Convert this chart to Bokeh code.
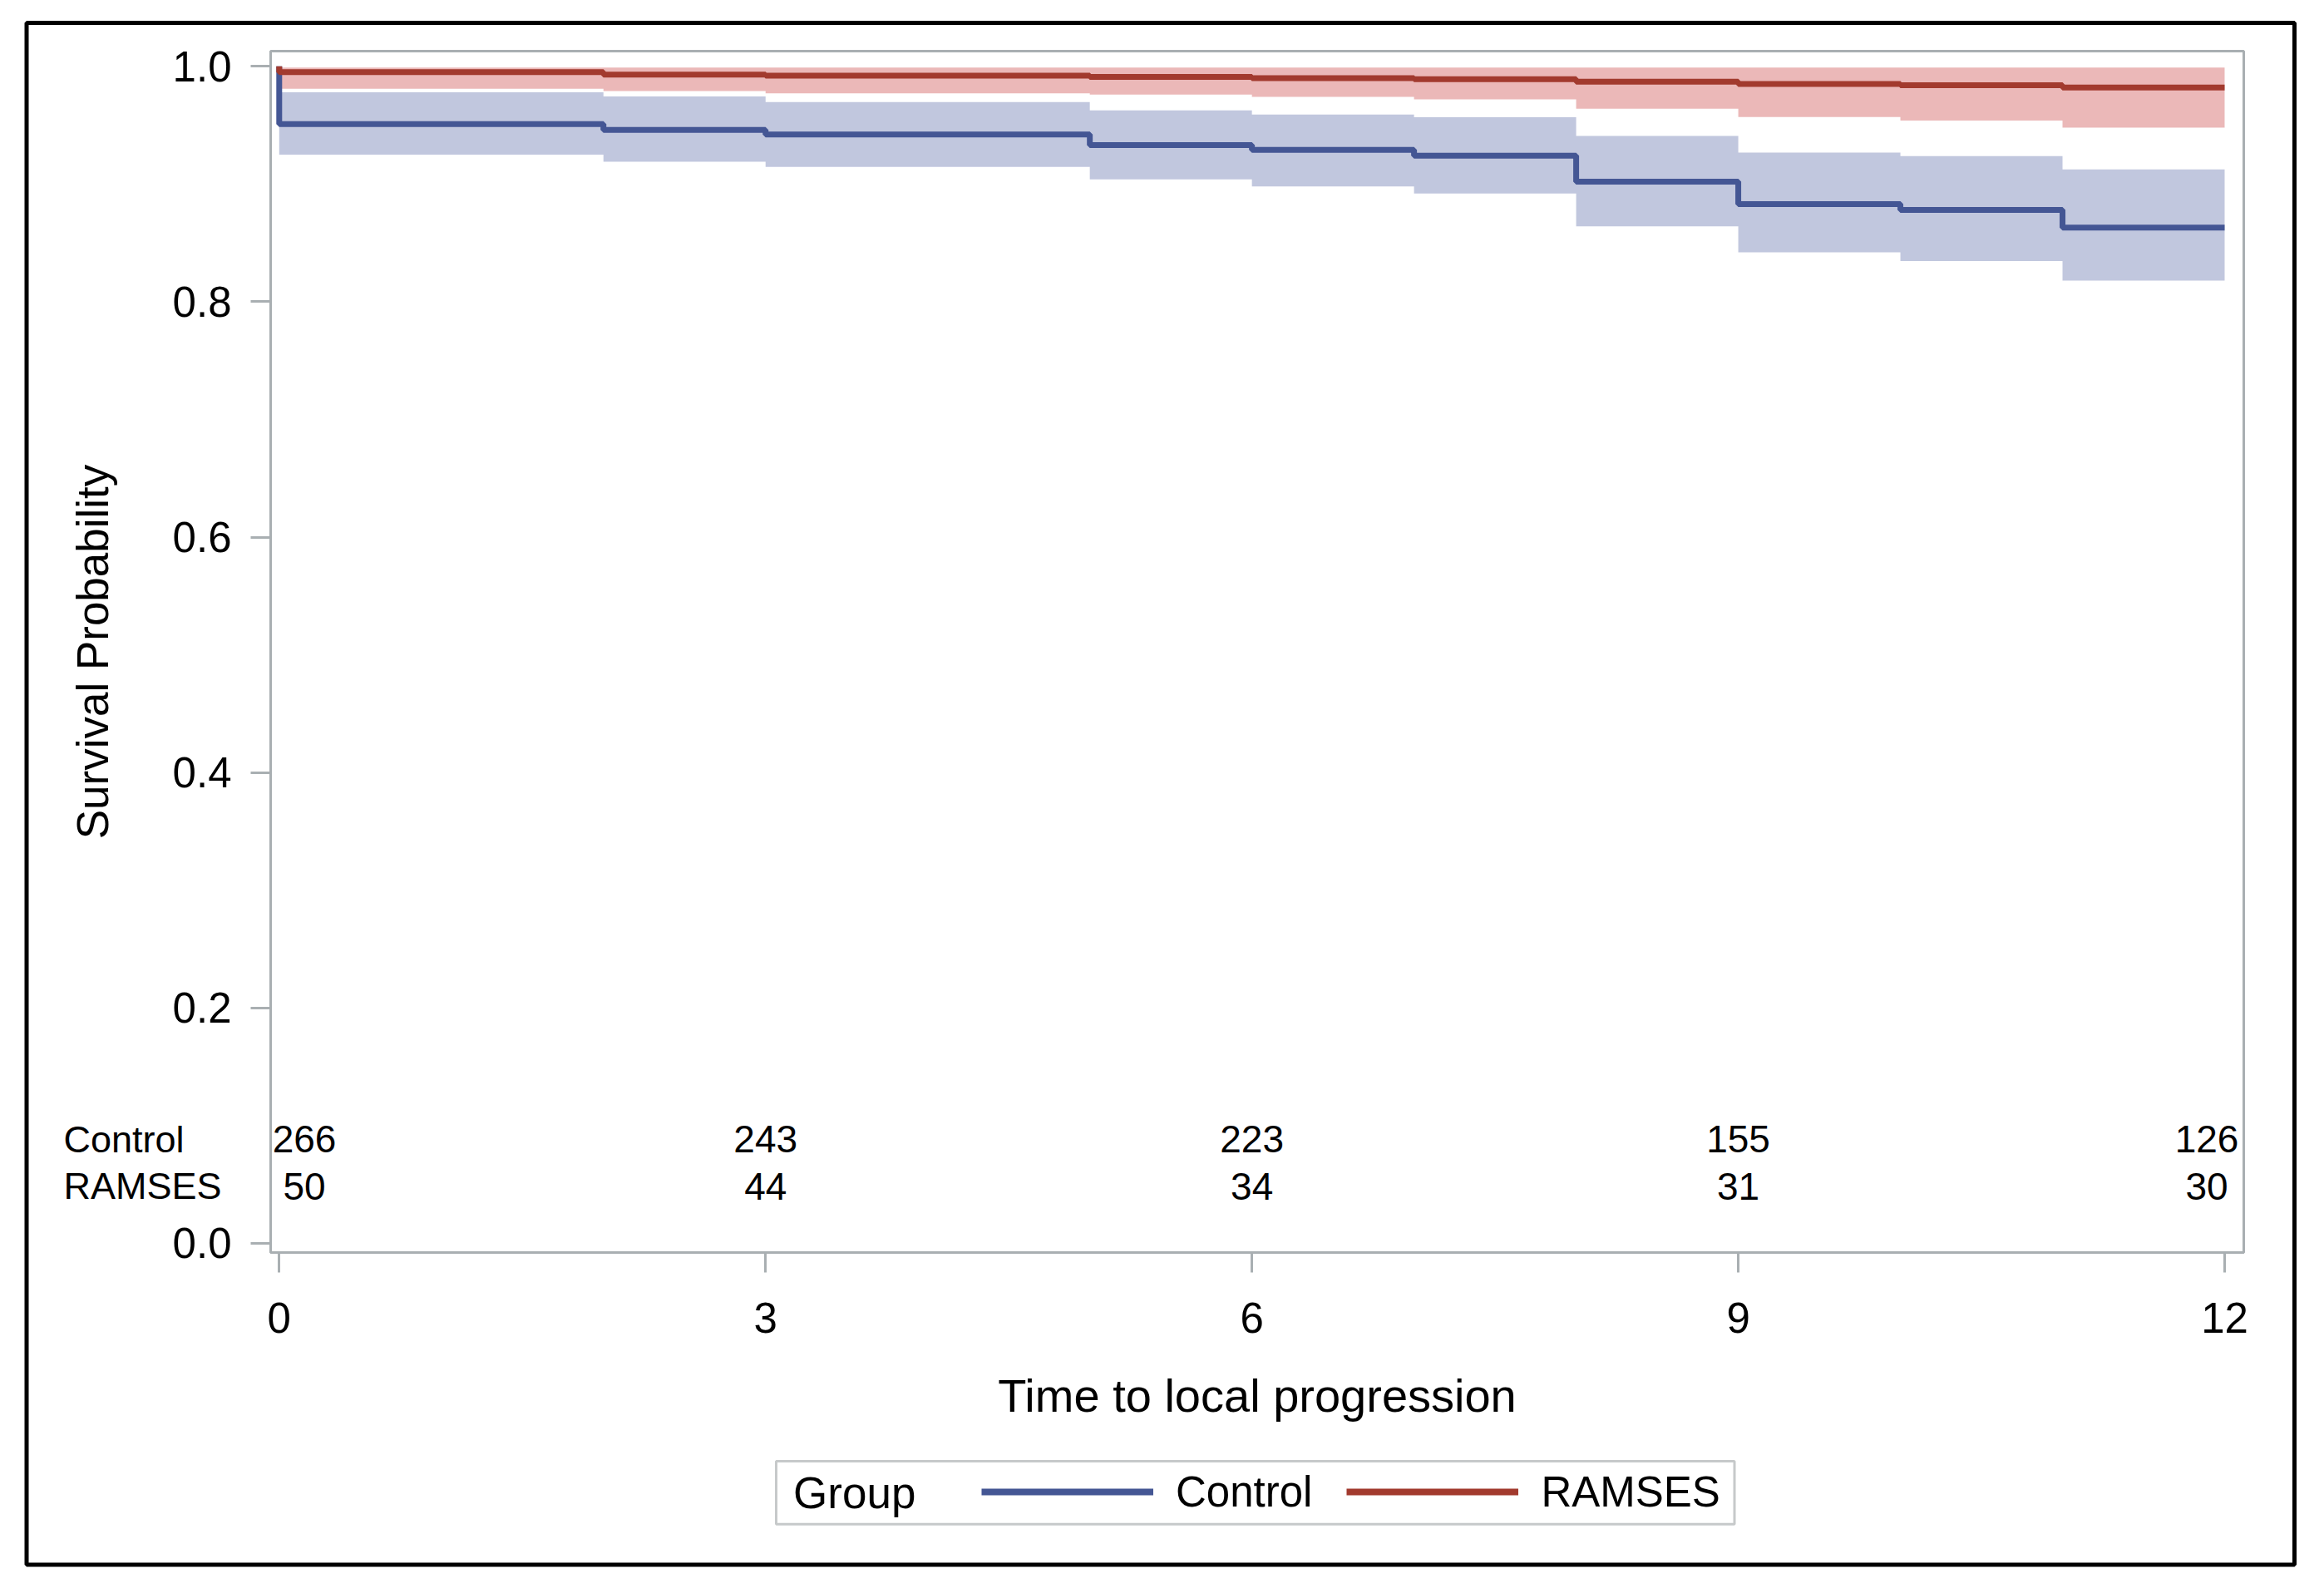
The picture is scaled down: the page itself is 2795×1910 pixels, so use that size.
from bokeh.plotting import figure
from bokeh.models import Range1d, FixedTicker, Legend, LegendItem, ColumnDataSource
from bokeh.core.properties import value
from bokeh.embed import file_html
from bokeh.resources import INLINE

# ---------------- data ----------------
times = [0, 2, 3, 5, 6, 7, 8, 9, 10, 11, 12]
control_surv  = [0.951, 0.946, 0.942, 0.933, 0.929, 0.924, 0.902, 0.883, 0.878, 0.863, 0.863]
control_lower = [0.925, 0.919, 0.9145, 0.904, 0.898, 0.892, 0.864, 0.842, 0.8345, 0.818, 0.818]
control_upper = [0.978, 0.9744, 0.9697, 0.9626, 0.9591, 0.9568, 0.9408, 0.9267, 0.9238, 0.9125, 0.9125]
ramses_surv  = [0.995, 0.993, 0.992, 0.991, 0.990, 0.989, 0.987, 0.985, 0.984, 0.982, 0.982]
ramses_lower = [0.981, 0.979, 0.977, 0.976, 0.974, 0.972, 0.964, 0.957, 0.954, 0.948, 0.948]
ramses_upper = [0.999, 0.999, 0.999, 0.999, 0.999, 0.999, 0.999, 0.999, 0.999, 0.999, 0.999]
start_surv = 1.0

risk_times = [0, 3, 6, 9, 12]
control_at_risk = [266, 243, 223, 155, 126]
ramses_at_risk = [50, 44, 34, 31, 30]
groups = ["Control", "RAMSES"]

x_ticks = [0, 3, 6, 9, 12]
y_ticks = [0.0, 0.2, 0.4, 0.6, 0.8, 1.0]
y_tick_labels = ["0.0", "0.2", "0.4", "0.6", "0.8", "1.0"]
x_title = "Time to local progression"
y_title = "Survival Probability"
legend_title = "Group"

# ---------------- style / layout ----------------
FONT = "Liberation Sans"
BLUE = "#445694"
RED = "#A23A2E"
BLUE_BAND = "#6F7EB3"
RED_BAND = "#D05B5B"
GRAY = "#a9afb2"

W, H = 2795, 1910
FL, FT, FR, FB = 325, 61, 2698, 1506          # frame edges in canvas px
X0, X1 = -0.0528, 12.118
Y0, Y1 = -0.0078, 1.0129

p = figure(width=W, height=H, output_backend="svg", toolbar_location=None,
           x_range=Range1d(X0, X1), y_range=Range1d(Y0, Y1),
           min_border_left=FL, min_border_right=W - FR, min_border_top=FT,
           min_border_bottom=H - FB)
p.background_fill_color = "white"
p.border_fill_color = "white"
p.xgrid.visible = False
p.ygrid.visible = False
p.outline_line_color = GRAY
p.outline_line_width = 3

# confidence bands
p.varea_step(x=times, y1=control_lower, y2=control_upper, step_mode="after",
             fill_color=BLUE_BAND, fill_alpha=0.43)
p.varea_step(x=times, y1=ramses_lower, y2=ramses_upper, step_mode="after",
             fill_color=RED_BAND, fill_alpha=0.43)

# survival step curves
ctrl_line = p.step([times[0]] + times, [start_surv] + control_surv, mode="after",
                   line_color=BLUE, line_width=7)
rams_line = p.step([times[0]] + times, [start_surv] + ramses_surv, mode="after",
                   line_color=RED, line_width=7)

# numbers at risk (end labels inset so they stay inside the frame)
risk_x = list(risk_times)
risk_x[0] = risk_times[0] + 0.155
risk_x[-1] = risk_times[-1] - 0.11
row_y = {"Control": 0.0883, "RAMSES": 0.0487}
for g, counts in zip(groups, [control_at_risk, ramses_at_risk]):
    src = ColumnDataSource(dict(x=risk_x, y=[row_y[g]] * len(counts),
                                t=[str(c) for c in counts]))
    p.text(x="x", y="y", text="t", source=src, text_align="center",
           text_baseline="middle", text_font=value(FONT),
           text_font_size="46px", text_color="black")

# axes
for ax in (p.xaxis[0], p.yaxis[0]):
    ax.axis_line_color = GRAY
    ax.axis_line_width = 3
    ax.major_tick_line_color = GRAY
    ax.major_tick_line_width = 3
    ax.major_tick_in = 0
    ax.major_tick_out = 24
    ax.minor_tick_line_color = None
    ax.major_label_text_font = FONT
    ax.major_label_text_font_size = "51px"
    ax.major_label_text_color = "black"
    ax.axis_label_text_font = FONT
    ax.axis_label_text_font_style = "normal"
    ax.axis_label_text_color = "black"

p.xaxis.ticker = FixedTicker(ticks=x_ticks)
p.xaxis.axis_label = x_title
p.xaxis.axis_label_text_font_size = "56px"
p.xaxis.major_label_standoff = 36
p.xaxis.axis_label_standoff = 41

p.yaxis.ticker = FixedTicker(ticks=y_ticks)
p.yaxis.major_label_overrides = {t: l for t, l in zip(y_ticks, y_tick_labels)}
p.yaxis.axis_label = y_title
p.yaxis.axis_label_text_font_size = "53px"
p.yaxis.major_label_standoff = 23
p.yaxis.axis_label_standoff = 64


def cy(y):
    return FT + (Y1 - y) / (Y1 - Y0) * (FB - FT)


# ---------- transparent overlay in canvas pixels for what lies outside the frame ----------
q = figure(width=W, height=H, output_backend="svg", toolbar_location=None,
           x_range=Range1d(0, W), y_range=Range1d(H, 0),
           x_axis_type=None, y_axis_type=None, min_border=0)
q.background_fill_color = None
q.border_fill_color = None
q.outline_line_color = None
q.styles = {"position": "absolute", "top": "0px", "left": "0px",
            "z-index": "10", "pointer-events": "none"}

# row headers of the at-risk table (same rows as the numbers)
hdr = ColumnDataSource(dict(x=[76, 76], y=[cy(row_y[g]) for g in groups], t=groups))
q.text(x="x", y="y", text="t", source=hdr, text_align="left",
       text_baseline="middle", text_font=value(FONT),
       text_font_size="45px", text_color="black")

# legend: box, title and entries
q.quad(left=[933], right=[2085.5], top=[1757], bottom=[1832.7],
       fill_alpha=0, line_color="#c6c9ca", line_width=3)
q.text(x=[953.6], y=[1795], text=[legend_title], text_align="left",
       text_baseline="middle", text_font=value(FONT),
       text_font_size="53px", text_color="black")
lg_ctrl = q.line(x=[-60, -40], y=[-60, -60], line_color=BLUE, line_width=8)
lg_rams = q.line(x=[-60, -40], y=[-60, -60], line_color=RED, line_width=8)
legend = Legend(items=[LegendItem(label=groups[0], renderers=[lg_ctrl]),
                       LegendItem(label=groups[1], renderers=[lg_rams])],
                orientation="horizontal", location=(1180, 86),
                glyph_width=207, glyph_height=60, label_height=60,
                label_standoff=27, spacing=41, padding=0, margin=0,
                border_line_alpha=0, background_fill_alpha=0,
                label_text_font=FONT, label_text_font_size="51px",
                label_text_color="black")
q.add_layout(legend, "center")

# outer frame of the whole picture
q.quad(left=[31.5], right=[2759], top=[27], bottom=[1881.5],
       fill_alpha=0, line_color="black", line_width=5)

open("out.html", "w").write(file_html([p, q], INLINE))
